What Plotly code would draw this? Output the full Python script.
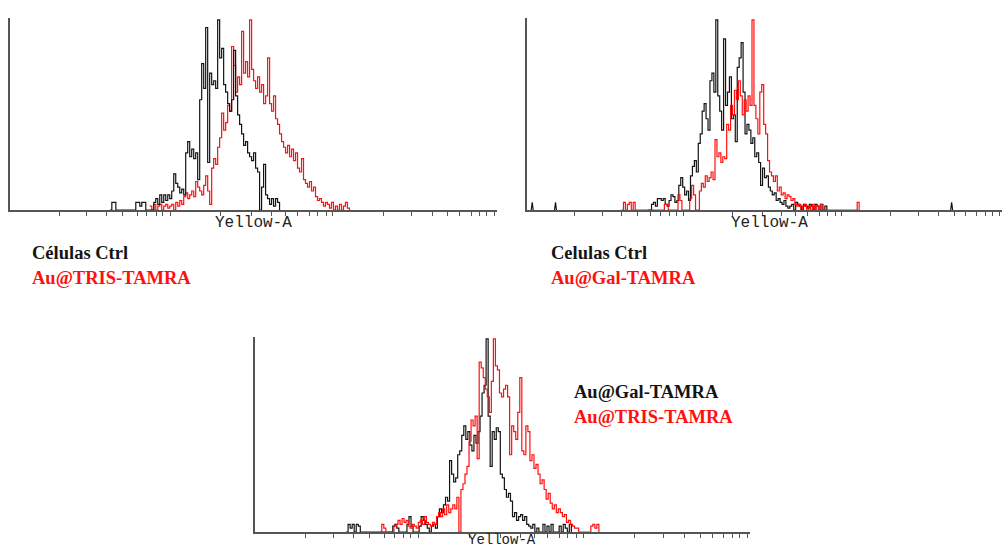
import numpy as np
import plotly.graph_objects as go

# ---------------------------------------------------------------------------
# Histogram data: Yellow-A fluorescence, counts as % of the tallest bin.
# Each series starts at a display channel (0-1000 scale) and has one value
# per bin of width BIN.
# ---------------------------------------------------------------------------
BIN = 4.1

# tick marks on the (logicle-type) Yellow-A axis, display channels
AXIS_TICKS = [101, 158, 199, 232, 261, 281, 300, 314, 330,
              433, 495, 536, 565, 591, 616, 632, 649, 663,
              766, 825, 867, 899, 924, 947, 965, 979, 994]

# Panel 1: Células Ctrl vs Au@TRIS-TAMRA
P1_CTRL_START = 205
P1_CTRL = [0, 4, 4, 0, 0, 0, 0, 0, 0, 0, 0, 0, 0, 4, 4, 2, 4, 4, 0, 0,
           0, 0, 4, 6, 3, 8, 4, 8, 5, 8, 6, 10, 19, 14, 12, 9, 11, 8, 30, 36,
           28, 32, 27, 30, 16, 58, 77, 64, 96, 25, 72, 66, 68, 64, 100, 80, 85, 66, 62, 56,
           52, 58, 84, 60, 50, 45, 40, 34, 36, 30, 28, 26, 30, 22, 20, 0, 12, 24, 8, 6,
           3, 6, 2, 6, 4, 0]
P1_TRIS_START = 287
P1_TRIS = [2, 0, 3, 0, 2, 3, 0, 2, 3, 1, 2, 3, 0, 4, 2, 5, 3, 7, 9, 6,
           8, 10, 7, 15, 12, 10, 8, 13, 18, 10, 3, 22, 27, 24, 33, 38, 51, 42, 46, 55,
           52, 86, 76, 62, 70, 66, 94, 72, 78, 70, 100, 74, 68, 64, 70, 62, 66, 56, 60, 80,
           56, 52, 60, 48, 45, 40, 36, 33, 30, 34, 28, 32, 26, 30, 22, 20, 27, 16, 14, 12,
           15, 10, 12, 7, 5, 6, 4, 2, 4, 3, 1, 4, 0, 2, 0, 3, 0, 2, 4, 1, 0]

# Panel 2: Celulas Ctrl vs Au@Gal-TAMRA
P2_CTRL_START = 254
P2_CTRL = [0, 0, 3, 4, 2, 6, 6, 5, 6, 3, 2, 5, 8, 7, 4, 5, 13, 17, 12, 8,
           10, 5, 18, 23, 26, 20, 35, 40, 52, 56, 48, 42, 68, 72, 62, 100, 60, 52, 42, 90,
           55, 62, 70, 48, 50, 36, 75, 80, 88, 62, 40, 45, 42, 35, 38, 28, 30, 25, 13, 22,
           17, 18, 12, 10, 8, 9, 5, 6, 4, 3, 5, 2, 1, 2, 3, 0, 4, 3, 2, 0,
           3, 2, 1, 3, 2, 0, 3, 2, 0, 3, 0, 2, 0]
# isolated single-event bins of the control far from the main peak
P2_CTRL_EVENT_CH = [11, 60, 894]
P2_CTRL_EVENT_VAL = [4, 4, 4]
P2_GAL_START = 199
P2_GAL = [0, 4, 0, 3, 4, 0, 4, 0, 0, 0, 0, 0, 0, 0, 0, 0, 0, 0, 0, 0,
          0, 0, 3, 3, 0, 0, 0, 0, 0, 8, 5, 0, 0, 0, 0, 6, 13, 8, 0, 0,
          10, 14, 12, 18, 15, 17, 20, 16, 37, 28, 30, 25, 28, 27, 45, 42, 55, 50, 63, 58,
          68, 60, 50, 58, 52, 60, 55, 100, 55, 48, 40, 62, 66, 45, 40, 26, 20, 18, 15, 18,
          10, 12, 8, 9, 6, 8, 7, 5, 6, 3, 2, 3, 0, 2, 3, 0, 2, 0, 3, 0,
          2, 0, 3, 0, 0, 0, 0, 0, 0, 0, 0, 0, 0, 0, 0, 0, 0, 0, 0, 0,
          0, 4, 0]

# Panel 3: Au@Gal-TAMRA vs Au@TRIS-TAMRA
P3_GAL_START = 184
P3_GAL = [0, 4, 2, 4, 0, 4, 3, 0, 0, 0, 0, 0, 0, 0, 0, 0, 0, 0, 0, 0,
          0, 0, 0, 3, 4, 2, 0, 0, 0, 0, 4, 8, 3, 0, 0, 0, 3, 8, 6, 4,
          2, 0, 3, 4, 2, 8, 12, 10, 14, 18, 16, 37, 30, 26, 28, 40, 42, 50, 55, 48,
          52, 45, 42, 50, 46, 52, 60, 72, 76, 100, 60, 34, 52, 48, 54, 52, 30, 28, 22, 18,
          20, 16, 8, 10, 6, 8, 9, 6, 8, 4, 3, 2, 4, 0, 2, 0, 0, 4, 0, 3,
          0, 4, 0, 0, 0, 3, 0, 4, 2, 0, 4, 0]
P3_TRIS_START = 252
P3_TRIS = [0, 4, 2, 0, 0, 0, 0, 3, 4, 6, 4, 7, 5, 6, 3, 2, 4, 3, 2, 5,
           6, 4, 8, 5, 4, 3, 5, 4, 8, 10, 8, 12, 9, 14, 10, 12, 14, 12, 18, 0,
           22, 25, 30, 34, 47, 58, 55, 60, 38, 88, 85, 80, 74, 70, 62, 78, 100, 86, 84, 72,
           70, 74, 76, 70, 40, 55, 52, 48, 62, 80, 42, 40, 55, 52, 37, 40, 33, 35, 30, 25,
           27, 22, 17, 20, 15, 12, 14, 10, 12, 10, 8, 9, 5, 6, 4, 3, 2, 2, 0, 0,
           0, 0, 0, 0, 3, 4, 2, 4, 0]

BLACK = "#141414"
RED = "#ff1010"
AXIS_COLOR = "#555555"

W, H = 1003, 548


def fx(p):
    return p / W


def fy(p):
    return 1 - p / H


def channels(start, counts):
    return start + BIN * np.arange(len(counts))


def hist(start, counts, color, ax):
    return go.Scatter(x=channels(start, counts), y=counts, mode="lines",
                      line=dict(color=color, width=1.2, shape="hv"), xaxis="x" + ax,
                      yaxis="y" + ax, hoverinfo="skip", showlegend=False)


fig = go.Figure()
fig.add_trace(hist(P1_TRIS_START, P1_TRIS, RED, ""))
fig.add_trace(hist(P1_CTRL_START, P1_CTRL, BLACK, ""))
fig.add_trace(hist(P2_CTRL_START, P2_CTRL, BLACK, "2"))

ev_x, ev_y = [], []
for c, v in zip(P2_CTRL_EVENT_CH, P2_CTRL_EVENT_VAL):
    ev_x += [c - BIN / 2, c, c + BIN / 2, None]
    ev_y += [0, v, 0, None]
fig.add_trace(go.Scatter(x=ev_x, y=ev_y, mode="lines", line=dict(color=BLACK, width=1.2),
                         xaxis="x2", yaxis="y2", hoverinfo="skip", showlegend=False))
fig.add_trace(hist(P2_GAL_START, P2_GAL, RED, "2"))
fig.add_trace(hist(P3_GAL_START, P3_GAL, BLACK, "3"))
fig.add_trace(hist(P3_TRIS_START, P3_TRIS, RED, "3"))

# panel frames in pixels: left, top, right, bottom
frames = {"": (10, 18, 497, 210), "2": (527, 18, 1002, 210), "3": (255, 337, 750, 532)}

layout = dict(width=W, height=H, margin=dict(l=0, r=0, t=0, b=0),
              paper_bgcolor="white", plot_bgcolor="white", showlegend=False)
for ax, (l, t, r, b) in frames.items():
    layout["xaxis" + ax] = dict(domain=[fx(l), fx(r)], range=[0, 1000], anchor="y" + ax,
                                showline=True, linecolor=AXIS_COLOR, linewidth=1.5,
                                ticks="outside", ticklen=4, tickwidth=1, tickcolor=AXIS_COLOR,
                                tickvals=AXIS_TICKS, showticklabels=False,
                                showgrid=False, zeroline=False, layer="above traces",
                                fixedrange=True)
    layout["yaxis" + ax] = dict(domain=[fy(b), fy(t)], range=[0, 101], anchor="x" + ax,
                                showline=True, linecolor=AXIS_COLOR, linewidth=1.5,
                                ticks="", showticklabels=False, showgrid=False,
                                zeroline=False, fixedrange=True)
fig.update_layout(**layout)

# axis names
for cx, cy, size in [(253, 223, 16), (769, 223, 16), (502, 540, 14)]:
    fig.add_annotation(x=fx(cx), y=fy(cy), xref="paper", yref="paper", text="Yellow-A",
                       showarrow=False, xanchor="center", yanchor="middle",
                       font=dict(family="Liberation Mono", size=size, color="#222222"))

# sample labels
labels = [
    (30, 253, "Células Ctrl", BLACK),
    (30, 278, "Au@TRIS-TAMRA", RED),
    (549, 253, "Celulas Ctrl", BLACK),
    (549, 278, "Au@Gal-TAMRA", RED),
    (572, 392, "Au@Gal-TAMRA", BLACK),
    (572, 417, "Au@TRIS-TAMRA", RED),
]
for x, y, text, color in labels:
    fig.add_annotation(x=fx(x), y=fy(y), xref="paper", yref="paper", text="<b>" + text + "</b>",
                       showarrow=False, xanchor="left", yanchor="middle",
                       font=dict(family="Liberation Serif", size=18.5, color=color))

fig.write_html("out.html")
